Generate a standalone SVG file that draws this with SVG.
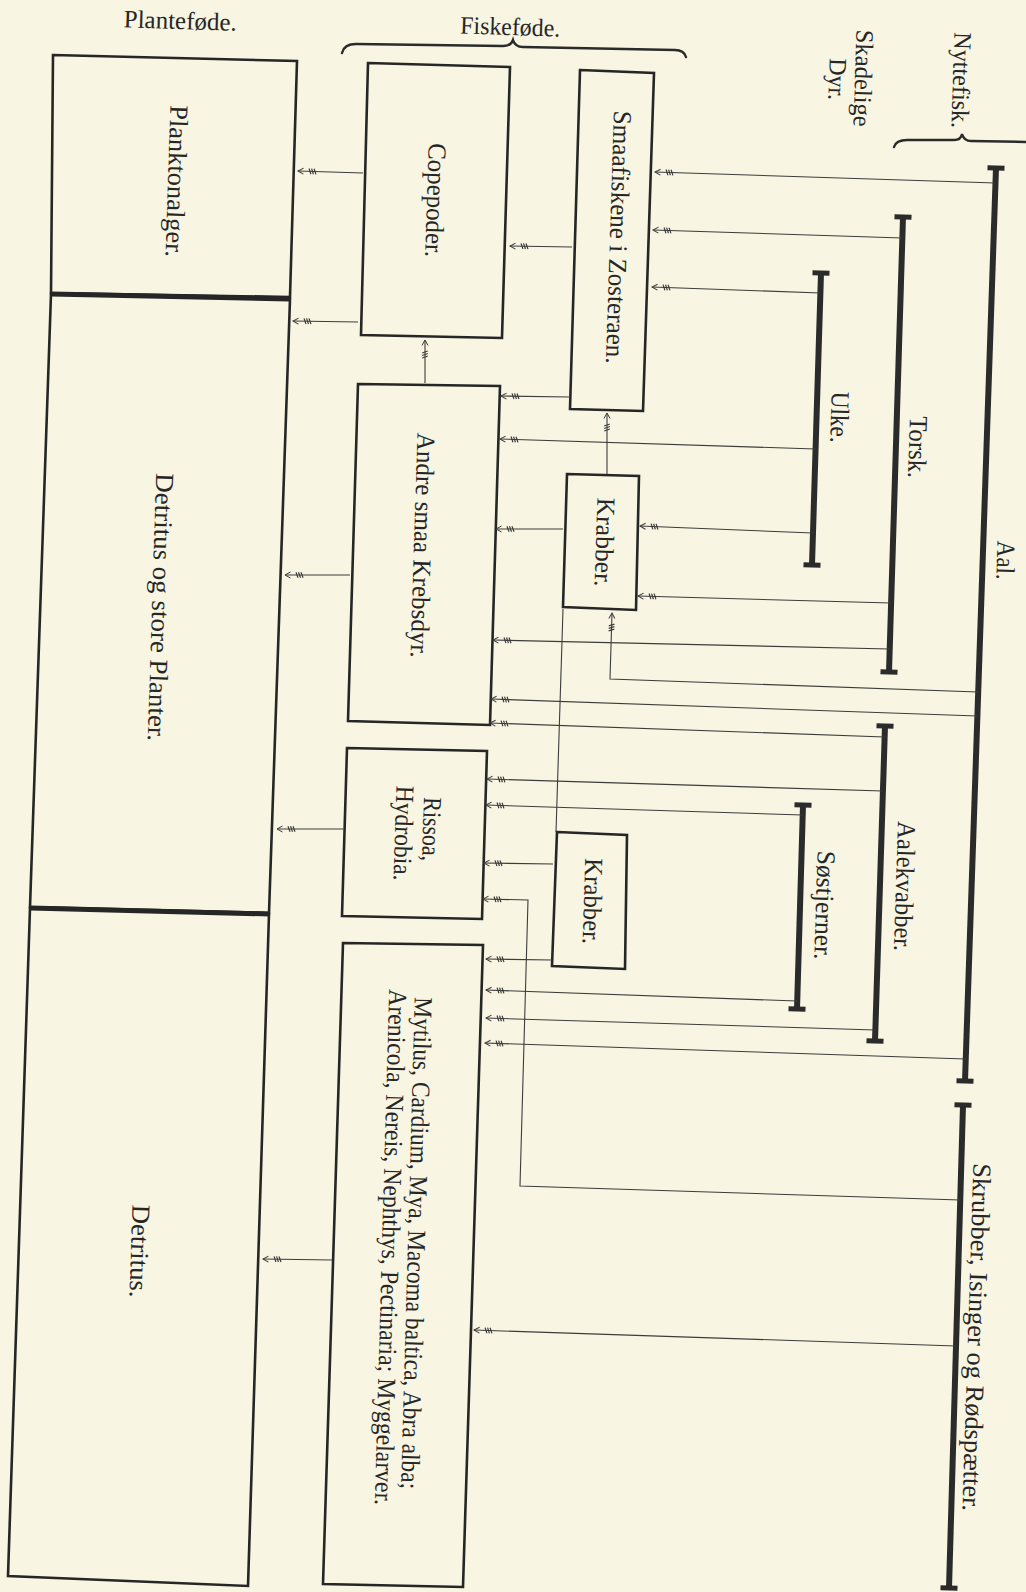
<svg xmlns="http://www.w3.org/2000/svg" width="1026" height="1592" viewBox="0 0 1026 1592">
<defs>
<style>
.bg{fill:#f8f5e2}
.box{fill:none;stroke:#262626;stroke-width:2.6;stroke-linejoin:miter}
.div{stroke:#262626;stroke-width:5}
.bar{stroke:#2b2b2b;stroke-width:6;fill:none}
.cap{stroke:#2b2b2b;stroke-width:5}
.con{fill:none;stroke:#3c3c3c;stroke-width:1.1}
.arr{marker-end:url(#ah)}
.brace{fill:none;stroke:#2b2b2b;stroke-width:2.4;stroke-linecap:round}
text{font-family:"Liberation Serif","Times New Roman",serif;font-size:26px;fill:#262626;text-anchor:middle}
.hd{font-size:25px}
</style>
<marker id="ah" markerUnits="userSpaceOnUse" markerWidth="30" markerHeight="12" refX="28" refY="6" orient="auto" overflow="visible">
<path d="M22.5,3 L28,6 L22.5,9" fill="none" stroke="#3c3c3c" stroke-width="1"/>
<path d="M10,3.2 L12,8.8 M12.5,3.2 L14.5,8.8 M15,3.2 L17,8.8" fill="none" stroke="#3c3c3c" stroke-width="1.2"/>
</marker>
</defs>
<rect class="bg" x="0" y="0" width="1026" height="1592"/>

<g id="headers">
<text class="hd" x="180" y="29" transform="rotate(1.8 180 29)" textLength="113" lengthAdjust="spacingAndGlyphs">Planteføde.</text>
<text class="hd" x="510" y="35" transform="rotate(1.8 510 35)" textLength="100" lengthAdjust="spacingAndGlyphs">Fiskeføde.</text>
<path class="brace" d="M342,53 Q344,44 356,44 L503,46 Q511,46 513,40 Q515,47 523,47 L675,50 Q684,50 686,57"/>
<text class="hd" x="855" y="78" transform="rotate(91.8 855 78)" textLength="97" lengthAdjust="spacingAndGlyphs">Skadelige</text>
<text class="hd" x="829" y="79" transform="rotate(91.8 829 79)" textLength="42" lengthAdjust="spacingAndGlyphs">Dyr.</text>
<text class="hd" x="953" y="80" transform="rotate(91.8 953 80)" textLength="96" lengthAdjust="spacingAndGlyphs">Nyttefisk.</text>
<path class="brace" d="M894,147 Q896,140 907,140 L954,140 Q961,140 962,134 Q964,141 971,141 L1030,142"/>
</g>

<g id="planktonalger">
<polygon class="box" points="53,55 297,61 290,297 51,293"/>
<text x="168" y="181" transform="rotate(91.8 168 181)" textLength="152" lengthAdjust="spacingAndGlyphs">Planktonalger.</text>
</g>
<g id="detritus-store-planter">
<polygon class="box" points="51,294 290,299 269,913 30,907"/>
<line class="div" x1="51" y1="294" x2="290" y2="299"/>
<text x="152" y="607" transform="rotate(91.8 152 607)" textLength="268" lengthAdjust="spacingAndGlyphs">Detritus og store Planter.</text>
</g>
<g id="detritus">
<polygon class="box" points="30,908 269,914 248,1586 8,1576"/>
<line class="div" x1="30" y1="908" x2="269" y2="914"/>
<text x="131" y="1251" transform="rotate(91.8 131 1251)" textLength="93" lengthAdjust="spacingAndGlyphs">Detritus.</text>
</g>

<g id="copepoder">
<polygon class="box" points="368,63 510,67 502,338 361,335"/>
<text x="427" y="200" transform="rotate(91.8 427 200)" textLength="114" lengthAdjust="spacingAndGlyphs">Copepoder.</text>
</g>
<g id="andre-smaa-krebsdyr">
<polygon class="box" points="358,384 500,386 490,725 348,721"/>
<text x="414" y="545" transform="rotate(91.8 414 545)" textLength="225" lengthAdjust="spacingAndGlyphs">Andre smaa Krebsdyr.</text>
</g>
<g id="rissoa-hydrobia">
<polygon class="box" points="347,748 487,751 482,919 342,916"/>
<text x="423" y="829" transform="rotate(91.8 423 829)" textLength="64" lengthAdjust="spacingAndGlyphs">Rissoa,</text>
<text x="395" y="833" transform="rotate(91.8 395 833)" textLength="95" lengthAdjust="spacingAndGlyphs">Hydrobia.</text>
</g>
<g id="mytilus">
<polygon class="box" points="343,943 483,945 463,1587 323,1584"/>
<text x="408" y="1243" transform="rotate(91.6 408 1243)" textLength="492" lengthAdjust="spacingAndGlyphs">Mytilus, Cardium, Mya, Macoma baltica, Abra alba;</text>
<text x="382" y="1247" transform="rotate(91.6 382 1247)" textLength="516" lengthAdjust="spacingAndGlyphs">Arenicola, Nereis, Nephthys, Pectinaria; Myggelarver.</text>
</g>
<g id="smaafiskene">
<polygon class="box" points="580,70 654,73 643,411 570,409"/>
<text x="610" y="237" transform="rotate(91.8 610 237)" textLength="253" lengthAdjust="spacingAndGlyphs">Smaafiskene i Zosteraen.</text>
</g>
<g id="krabber-1">
<polygon class="box" points="567,474 639,476 636,610 563,607"/>
<text x="596" y="542" transform="rotate(91.8 596 542)" textLength="89" lengthAdjust="spacingAndGlyphs">Krabber.</text>
</g>
<g id="krabber-2">
<polygon class="box" points="557,832 627,835 625,969 552,966"/>
<text x="584" y="901" transform="rotate(91.8 584 901)" textLength="86" lengthAdjust="spacingAndGlyphs">Krabber.</text>
</g>

<g id="aal">
<line class="bar" x1="996" y1="168" x2="965" y2="1081"/>
<line class="cap" x1="987.5" y1="167.7" x2="1004.5" y2="168.3"/>
<line class="cap" x1="956.5" y1="1080.7" x2="973.5" y2="1081.3"/>
<text x="997" y="560" transform="rotate(91.8 997 560)" textLength="39" lengthAdjust="spacingAndGlyphs">Aal.</text>
</g>
<g id="torsk">
<line class="bar" x1="903" y1="217" x2="889" y2="672"/>
<line class="cap" x1="894.5" y1="216.7" x2="911.5" y2="217.3"/>
<line class="cap" x1="880.5" y1="671.7" x2="897.5" y2="672.3"/>
<text x="909" y="447" transform="rotate(91.8 909 447)" textLength="62" lengthAdjust="spacingAndGlyphs">Torsk.</text>
</g>
<g id="ulke">
<line class="bar" x1="821" y1="273" x2="812" y2="565"/>
<line class="cap" x1="812.5" y1="272.7" x2="829.5" y2="273.3"/>
<line class="cap" x1="803.5" y1="564.7" x2="820.5" y2="565.3"/>
<text x="831" y="417" transform="rotate(91.8 831 417)" textLength="51" lengthAdjust="spacingAndGlyphs">Ulke.</text>
</g>
<g id="aalekvabber">
<line class="bar" x1="885" y1="726" x2="875" y2="1041"/>
<line class="cap" x1="876.5" y1="725.7" x2="893.5" y2="726.3"/>
<line class="cap" x1="866.5" y1="1040.7" x2="883.5" y2="1041.3"/>
<text x="896" y="886" transform="rotate(91.8 896 886)" textLength="130" lengthAdjust="spacingAndGlyphs">Aalekvabber.</text>
</g>
<g id="sostjerner">
<line class="bar" x1="803" y1="805" x2="797" y2="1009"/>
<line class="cap" x1="794.5" y1="804.7" x2="811.5" y2="805.3"/>
<line class="cap" x1="788.5" y1="1008.7" x2="805.5" y2="1009.3"/>
<text x="816" y="905" transform="rotate(91.8 816 905)" textLength="109" lengthAdjust="spacingAndGlyphs">Søstjerner.</text>
</g>
<g id="skrubber">
<line class="bar" x1="963" y1="1105" x2="949" y2="1588"/>
<line class="cap" x1="954.5" y1="1104.7" x2="971.5" y2="1105.3"/>
<line class="cap" x1="940.5" y1="1587.7" x2="957.5" y2="1588.3"/>
<text x="968" y="1337" transform="rotate(91.8 968 1337)" textLength="348" lengthAdjust="spacingAndGlyphs">Skrubber, Isinger og Rødspætter.</text>
</g>

<g id="connectors">
<line class="con arr" x1="995.5" y1="183" x2="655" y2="172"/>
<line class="con arr" x1="902.4" y1="238" x2="653" y2="230"/>
<line class="con arr" x1="820.4" y1="293" x2="652" y2="287"/>
<line class="con arr" x1="363" y1="173" x2="298" y2="171"/>
<line class="con arr" x1="358" y1="322" x2="293" y2="321"/>
<line class="con arr" x1="572" y1="247" x2="510" y2="246"/>
<line class="con arr" x1="570" y1="397" x2="501" y2="396"/>
<line class="con arr" x1="425" y1="383" x2="425" y2="340"/>
<line class="con arr" x1="607" y1="474" x2="607" y2="413"/>
<line class="con arr" x1="815.6" y1="449" x2="500" y2="439"/>
<line class="con arr" x1="813" y1="533" x2="640" y2="526"/>
<line class="con arr" x1="563" y1="529" x2="496" y2="529"/>
<line class="con arr" x1="891" y1="603" x2="638" y2="596"/>
<line class="con arr" x1="889.7" y1="649" x2="493" y2="640"/>
<polyline class="con arr" points="978,692 610,679 612,613"/>
<line class="con arr" x1="977.4" y1="716" x2="491" y2="699"/>
<line class="con arr" x1="884.7" y1="737" x2="490" y2="723"/>
<line class="con arr" x1="883" y1="791" x2="487" y2="779"/>
<line class="con arr" x1="802.7" y1="815" x2="486" y2="805"/>
<line class="con arr" x1="553" y1="864" x2="484" y2="863"/>
<polyline class="con arr" points="960.2,1200 520,1186 528,900 483,899"/>
<line class="con" x1="563" y1="609" x2="556" y2="832"/>
<line class="con arr" x1="552" y1="960" x2="486" y2="959"/>
<line class="con arr" x1="797.2" y1="1001" x2="486" y2="990"/>
<line class="con arr" x1="875.3" y1="1030" x2="486" y2="1018"/>
<line class="con arr" x1="965.7" y1="1059" x2="485" y2="1043"/>
<line class="con arr" x1="956" y1="1346" x2="474" y2="1330"/>
<line class="con arr" x1="332" y1="1260" x2="263" y2="1259"/>
<line class="con arr" x1="350" y1="575" x2="285" y2="575"/>
<line class="con arr" x1="343" y1="829" x2="277" y2="829"/>
</g>
</svg>
